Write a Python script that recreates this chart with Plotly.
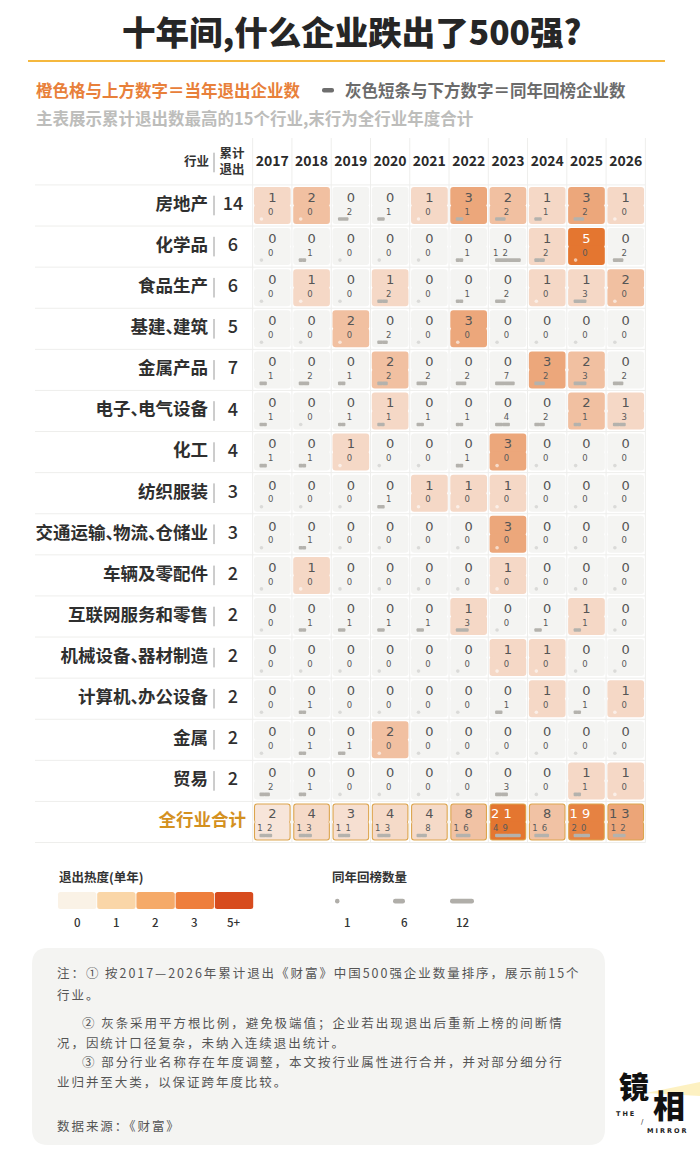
import math
import plotly.graph_objects as go

# ---------------- data ----------------
years = ['2017', '2018', '2019', '2020', '2021', '2022', '2023', '2024', '2025', '2026']
industries = ['房地产', '化学品', '食品生产', '基建、建筑', '金属产品', '电子、电气设备', '化工',
              '纺织服装', '交通运输、物流、仓储业', '车辆及零配件', '互联网服务和零售',
              '机械设备、器材制造', '计算机、办公设备', '金属', '贸易']
# exits per industry per year (orange cells, upper number)
exits = [
    [1, 2, 0, 0, 1, 3, 2, 1, 3, 1],
    [0, 0, 0, 0, 0, 0, 0, 1, 5, 0],
    [0, 1, 0, 1, 0, 0, 0, 1, 1, 2],
    [0, 0, 2, 0, 0, 3, 0, 0, 0, 0],
    [0, 0, 0, 2, 0, 0, 0, 3, 2, 0],
    [0, 0, 0, 1, 0, 0, 0, 0, 2, 1],
    [0, 0, 1, 0, 0, 0, 3, 0, 0, 0],
    [0, 0, 0, 0, 1, 1, 1, 0, 0, 0],
    [0, 0, 0, 0, 0, 0, 3, 0, 0, 0],
    [0, 1, 0, 0, 0, 0, 1, 0, 0, 0],
    [0, 0, 0, 0, 0, 1, 0, 0, 1, 0],
    [0, 0, 0, 0, 0, 0, 1, 1, 0, 0],
    [0, 0, 0, 0, 0, 0, 0, 1, 0, 1],
    [0, 0, 0, 2, 0, 0, 0, 0, 0, 0],
    [0, 0, 0, 0, 0, 0, 0, 0, 1, 1],
]
# companies returning to the list in the same year (gray bars, lower number)
returns = [
    [0, 0, 2, 1, 0, 1, 2, 1, 2, 0],
    [0, 1, 0, 0, 0, 1, 12, 2, 0, 2],
    [0, 0, 0, 2, 0, 1, 2, 0, 3, 0],
    [0, 0, 0, 2, 0, 0, 0, 0, 0, 0],
    [1, 2, 1, 2, 2, 2, 7, 2, 3, 2],
    [1, 0, 1, 1, 1, 1, 4, 2, 1, 3],
    [1, 1, 0, 0, 0, 1, 0, 0, 0, 0],
    [0, 0, 0, 1, 0, 0, 0, 0, 0, 0],
    [0, 1, 0, 0, 0, 0, 0, 0, 0, 0],
    [0, 0, 0, 0, 0, 0, 0, 0, 0, 0],
    [0, 1, 1, 1, 1, 3, 0, 1, 1, 0],
    [0, 0, 0, 0, 0, 0, 0, 0, 0, 0],
    [0, 1, 0, 0, 0, 0, 1, 0, 1, 0],
    [0, 1, 1, 0, 0, 0, 0, 0, 0, 0],
    [2, 1, 0, 0, 0, 0, 3, 0, 1, 0],
]
total_label = '全行业合计'
total_exits = [2, 4, 3, 4, 4, 8, 21, 8, 19, 13]
total_returns = [12, 13, 11, 13, 8, 16, 49, 16, 20, 12]
legend_heat_labels = ['0', '1', '2', '3', '5+']
legend_return_labels = ['1', '6', '12']

# ---------------- geometry / style ----------------
W, H = 700, 1163
COL0, COLW = 272.3, 39.27      # px of first column centre, px per column
ROW0, ROWH = 205.5, 41.1       # px of first row centre, px per row
X0 = -COL0 / COLW
X1 = X0 + W / COLW
Y0 = -ROW0 / ROWH
Y1 = Y0 + H / ROWH


def ux(px):
    return X0 + px / COLW


def uy(py):
    return Y0 + py / ROWH


def PX(px):
    return px / W


def PY(py):
    return 1 - py / H


CJK = 'Noto Sans CJK SC'
NUM = 'DejaVu Sans'
CW = 36.7 / COLW
CH = 37.0 / ROWH
BASE_RGB = (249, 241, 236)
HOT_RGB = (228, 118, 48)
ZERO_CELL = '#F4F4F2'
PILL = '#B4B2AD'


def heat(v, vmax):
    if v == 0:
        return ZERO_CELL
    t = min(v / vmax, 1.0)
    c = [round(b + (h - b) * t) for b, h in zip(BASE_RGB, HOT_RGB)]
    return 'rgb(%d,%d,%d)' % tuple(c)


def spaced(n, sep):
    s = str(n)
    return sep.join(s) if len(s) > 1 else s


def label_html(name):
    # narrow enumeration comma, as in the reference typeface
    return name.replace('、', '<span style="letter-spacing:-10px">、</span>')


fig = go.Figure()

# ---- grid lines ----
gx, gy = [], []
n_rows = len(industries) + 1
for r in range(n_rows + 1):
    gx += [ux(35), len(years) - 0.5, None]
    gy += [r - 0.5, r - 0.5, None]
for i in range(len(years) + 1):
    gx += [i - 0.5, i - 0.5, None]
    gy += [uy(138), n_rows - 0.5, None]
fig.add_trace(go.Scatter(x=gx, y=gy, mode='lines', line=dict(color='#EEEEEC', width=1),
                         hoverinfo='skip', showlegend=False))

# ---- cell data flattened ----
rows_all = [(exits[r], returns[r], r) for r in range(len(industries))]
ind_emax = 5
ind_rmax = max(max(rr) for rr in returns)
tot_emax = max(total_exits)
tot_rmax = max(total_returns)


def add_halves_v(xs, centres, length, width, colors, radius):
    eps = 0.02
    fig.add_trace(go.Bar(x=xs, base=[c + eps for c in centres], y=[-(length / 2 + eps)] * len(xs),
                         width=width, marker=dict(color=colors, cornerradius=radius, line=dict(width=0)),
                         hoverinfo='skip', showlegend=False))
    fig.add_trace(go.Bar(x=xs, base=[c - eps for c in centres], y=[length / 2 + eps] * len(xs),
                         width=width, marker=dict(color=colors, cornerradius=radius, line=dict(width=0)),
                         hoverinfo='skip', showlegend=False))


def add_halves_h(ys, centres, halves, thick, color, radius):
    eps = 0.01
    fig.add_trace(go.Bar(y=ys, base=[c + eps for c in centres], x=[-(h + eps) for h in halves],
                         orientation='h', width=thick,
                         marker=dict(color=color, cornerradius=radius, line=dict(width=0)),
                         hoverinfo='skip', showlegend=False))
    fig.add_trace(go.Bar(y=ys, base=[c - eps for c in centres], x=[h + eps for h in halves],
                         orientation='h', width=thick,
                         marker=dict(color=color, cornerradius=radius, line=dict(width=0)),
                         hoverinfo='skip', showlegend=False))


# industry cells
cx, cy, cc = [], [], []
for ev, rv, r in rows_all:
    for i, v in enumerate(ev):
        cx.append(i)
        cy.append(r)
        cc.append(heat(v, ind_emax))
add_halves_v(cx, cy, CH, CW, cc, 3)

# total row: gold frame then fill
tr = len(industries)
add_halves_v(list(range(len(years))), [tr] * len(years), CH, CW, '#DCA54E', 3)
add_halves_v(list(range(len(years))), [tr] * len(years), CH - 2.2 / ROWH, CW - 2.2 / COLW,
             [heat(v, tot_emax) for v in total_exits], 2)

# ---- pills (returns) ----
PILL_MAX = 25.7
pill_y, pill_c, pill_h = [], [], []
dot_x, dot_y, dot_c = [], [], []
all_rows = rows_all + [(total_exits, total_returns, tr)]
for ev, rv, r in all_rows:
    rmax = tot_rmax if r == tr else ind_rmax
    for i, n in enumerate(rv):
        left = i - CW / 2 + 5.5 / COLW
        if n > 0:
            wpx = PILL_MAX * math.sqrt(n / rmax)
            half = wpx / 2 / COLW
            pill_y.append(r + 13.5 / ROWH)
            pill_c.append(left + half)
            pill_h.append(half)
        else:
            dot_x.append(i - CW / 2 + 7.5 / COLW)
            dot_y.append(r + 13.5 / ROWH)
            dot_c.append('#DADAD8' if ev[i] == 0 else 'rgba(255,255,255,0.6)')
add_halves_h(pill_y, pill_c, pill_h, 3.6 / ROWH, PILL, 2)
fig.add_trace(go.Scatter(x=dot_x, y=dot_y, mode='markers',
                         marker=dict(size=3.6, color=dot_c, line=dict(width=0)),
                         hoverinfo='skip', showlegend=False))

# ---- cell numbers ----
tx, ty, tt, tcol = [], [], [], []
bx, by, bt = [], [], []
for ev, rv, r in all_rows:
    emax = tot_emax if r == tr else ind_emax
    for i in range(len(years)):
        e, n = ev[i], rv[i]
        tx.append(i - (6.5 / COLW if e >= 10 else 0))
        ty.append(r - 6.9 / ROWH)
        tt.append(spaced(e, ' '))
        tcol.append('#FFFFFF' if e / emax >= 0.85 else '#555555')
        bx.append(i - (7.5 / COLW if n >= 10 else 1.5 / COLW))
        by.append(r + 7.0 / ROWH)
        bt.append(spaced(n, '\u2002'))
fig.add_trace(go.Scatter(x=tx, y=ty, text=tt, mode='text', textposition='middle center',
                         textfont=dict(family=NUM, size=13, color=tcol),
                         hoverinfo='skip', showlegend=False, cliponaxis=False))
fig.add_trace(go.Scatter(x=bx, y=by, text=bt, mode='text', textposition='middle center',
                         textfont=dict(family=NUM, size=8.5, color='#5a5a5a'),
                         hoverinfo='skip', showlegend=False, cliponaxis=False))

# ---- row labels, separators, cumulative totals ----
ind_rows = list(range(len(industries)))
cumulative = [sum(ev) for ev in exits]
fig.add_trace(go.Scatter(x=[ux(208)] * len(industries), y=ind_rows,
                         text=[label_html(s) for s in industries], mode='text',
                         textposition='middle left',
                         textfont=dict(family=CJK, size=17.5, color='#2f2f2f', weight=700),
                         hoverinfo='skip', showlegend=False, cliponaxis=False))
fig.add_trace(go.Scatter(x=[ux(214)] * len(industries), y=ind_rows, mode='markers',
                         marker=dict(symbol='line-ns', size=14, line=dict(color='#9a9a9a', width=1)),
                         hoverinfo='skip', showlegend=False))
fig.add_trace(go.Scatter(x=[ux(233)] * len(industries), y=ind_rows, text=[str(c) for c in cumulative],
                         mode='text', textposition='middle center',
                         textfont=dict(family=CJK, size=18, color='#2f2f2f', weight=500),
                         hoverinfo='skip', showlegend=False, cliponaxis=False))
fig.add_trace(go.Scatter(x=[ux(246)], y=[tr], text=[total_label], mode='text', textposition='middle left',
                         textfont=dict(family=CJK, size=17.5, color='#D4911F', weight=700),
                         hoverinfo='skip', showlegend=False, cliponaxis=False))

# ---- header ----
fig.add_trace(go.Scatter(x=list(range(len(years))), y=[uy(162.5)] * len(years), text=years, mode='text',
                         textposition='middle center',
                         textfont=dict(family=CJK, size=14, color='#2a2a2a', weight=700),
                         hoverinfo='skip', showlegend=False, cliponaxis=False))
fig.add_trace(go.Scatter(x=[ux(209), ux(232)], y=[uy(162.5), uy(162.5)], text=['行业', '累计<br>退出'],
                         mode='text', textposition=['middle left', 'middle center'],
                         textfont=dict(family=CJK, size=12.5, color='#333333', weight=700),
                         hoverinfo='skip', showlegend=False, cliponaxis=False))
fig.add_trace(go.Scatter(x=[ux(214)], y=[uy(162.5)], mode='markers',
                         marker=dict(symbol='line-ns', size=14, line=dict(color='#9a9a9a', width=1)),
                         hoverinfo='skip', showlegend=False))

# ---------------- decorations ----------------
shapes = []
annots = []


def rr_path(x0, y0, x1, y1, r):
    # pixel rectangle with rounded corners -> paper path
    def P(x, y):
        return '%.5f,%.5f' % (PX(x), PY(y))
    return ('M' + P(x0 + r, y0) + ' L' + P(x1 - r, y0) + ' Q' + P(x1, y0) + ' ' + P(x1, y0 + r) +
            ' L' + P(x1, y1 - r) + ' Q' + P(x1, y1) + ' ' + P(x1 - r, y1) +
            ' L' + P(x0 + r, y1) + ' Q' + P(x0, y1) + ' ' + P(x0, y1 - r) +
            ' L' + P(x0, y0 + r) + ' Q' + P(x0, y0) + ' ' + P(x0 + r, y0) + ' Z')


def text(x, y, s, size, color, weight=400, anchor='left', family=CJK, valign='middle'):
    annots.append(dict(x=PX(x), y=PY(y), xref='paper', yref='paper', text=s, showarrow=False,
                       xanchor=anchor, yanchor=valign,
                       font=dict(family=family, size=size, color=color, weight=weight)))


# title
text(351, 30, '十年间,什么企业跌出了500强?', 33.5, '#262626', 900, 'center')
shapes.append(dict(type='line', xref='paper', yref='paper', x0=PX(28), x1=PX(665), y0=PY(61), y1=PY(61),
                   line=dict(color='#F5B83E', width=2)))
# subtitles
text(34, 90, '橙色格与上方数字＝当年退出企业数', 16.5, '#E8803A', 700)
shapes.append(dict(type='path', xref='paper', yref='paper', path=rr_path(322, 88, 334, 92.5, 2),
                   fillcolor='#6e6e6e', line=dict(width=0)))
text(343, 90, '灰色短条与下方数字＝同年回榜企业数', 16.5, '#6b6b6b', 700)
text(34, 118, '主表展示累计退出数最高的15个行业,末行为全行业年度合计', 16.5, '#BDBDBB', 700)

# legend: heat
text(57, 876, '退出热度(单年)', 12.5, '#333333', 700)
heat_colors = ['#FAF2E6', '#FAD6A8', '#F5AA69', '#EE7E3C', '#D74B1E']
for k, lab in enumerate(legend_heat_labels):
    x0 = 58 + k * 39.2
    shapes.append(dict(type='path', xref='paper', yref='paper', path=rr_path(x0, 892, x0 + 38.4, 909, 2.5),
                       fillcolor=heat_colors[k], line=dict(width=0)))
    text(x0 + 19.2, 922, lab, 11.5, '#333333', 500, 'center')
# legend: returns
text(330, 876, '同年回榜数量', 12.5, '#333333', 700)
ret_leg_x = [(335, 339.5), (393, 405), (450, 474)]
ret_lab_x = [347, 404, 462]
for k, lab in enumerate(legend_return_labels):
    a, b = ret_leg_x[k]
    shapes.append(dict(type='path', xref='paper', yref='paper', path=rr_path(a, 898.8, b, 903.4, 2.2),
                       fillcolor='#B0AEA9', line=dict(width=0)))
    text(ret_lab_x[k], 922, lab, 11.5, '#333333', 500, 'center')

# notes box
shapes.append(dict(type='path', xref='paper', yref='paper', path=rr_path(32, 948, 605, 1145, 16),
                   fillcolor='#F4F4F2', line=dict(width=0), layer='below'))
LS = '<span style="letter-spacing:1.95px">%s</span>'
notes = [
    (55, 972, '注：① 按2017—2026年累计退出《财富》中国500强企业数量排序，展示前15个'),
    (55, 994, '行业。'),
    (80, 1022, '② 灰条采用平方根比例，避免极端值；企业若出现退出后重新上榜的间断情'),
    (55, 1042, '况，因统计口径复杂，未纳入连续退出统计。'),
    (80, 1061, '③ 部分行业名称存在年度调整，本文按行业属性进行合并，并对部分细分行'),
    (55, 1081, '业归并至大类，以保证跨年度比较。'),
    (55, 1125, '数据来源：《财富》'),
]
for x, y, s in notes:
    text(x, y, LS % s, 12.5, '#555555', 400)

# logo
shapes.append(dict(type='path', xref='paper', yref='paper',
                   path='M%.5f,%.5f L%.5f,%.5f L%.5f,%.5f Z' % (PX(646), PY(1093), PX(700), PY(1082),
                                                              PX(700), PY(1096)),
                   fillcolor='rgba(250,225,120,0.45)', line=dict(width=0)))
text(634, 1085, '镜', 30, '#111111', 900, 'center')
text(669, 1104, '相', 32, '#111111', 900, 'center')
text(626, 1114, '<span style="letter-spacing:2px">THE</span>', 6.5, '#222222', 700, 'center', 'DejaVu Sans')
text(642, 1122, '/', 7, '#333333', 400, 'center', 'DejaVu Sans')
text(667, 1131, '<span style="letter-spacing:2px">MIRROR</span>', 6.5, '#222222', 700, 'center', 'DejaVu Sans')

fig.update_layout(
    width=W, height=H, margin=dict(l=0, r=0, t=0, b=0),
    paper_bgcolor='white', plot_bgcolor='white',
    barmode='overlay', showlegend=False,
    xaxis=dict(range=[X0, X1], visible=False, fixedrange=True),
    yaxis=dict(range=[Y1, Y0], visible=False, fixedrange=True),
    shapes=shapes, annotations=annots,
)
fig.write_html('out.html', config={'displayModeBar': False},
               post_script="document.body.style.margin='0px';document.body.style.overflow='hidden';")
